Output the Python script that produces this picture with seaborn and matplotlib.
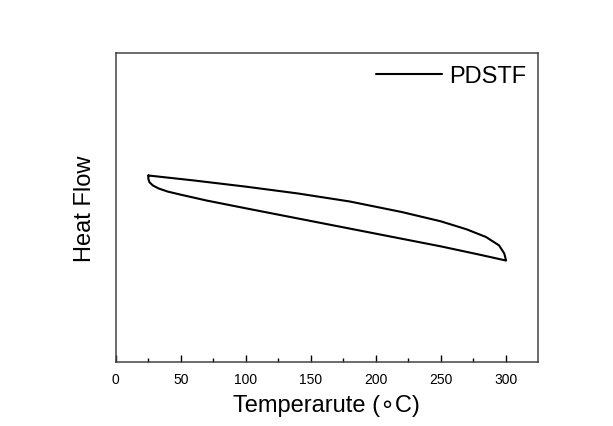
import matplotlib
matplotlib.use("Agg")
import matplotlib.pyplot as plt
import seaborn as sns
import numpy as np
import pandas as pd

# Loop of DSC trace: heating (upper) then cooling (lower) back to start
temperature = [25.1, 60, 100, 140, 180, 220, 250, 270, 285, 295, 299, 300.4,
               280, 250, 200, 150, 100, 70, 50, 40, 33, 28.5, 26, 25.1, 25.1]
heat_flow = [6.04, 5.88, 5.68, 5.46, 5.20, 4.86, 4.56, 4.30, 4.05, 3.78, 3.52, 3.29,
             3.48, 3.75, 4.16, 4.57, 4.98, 5.23, 5.42, 5.52, 5.62, 5.72, 5.82, 5.93, 6.04]
series_name = "PDSTF"
x_ticks = [0, 50, 100, 150, 200, 250, 300]

sns.set_style("white")
plt.rcParams['font.family'] = ['Liberation Sans', 'DejaVu Sans']
plt.rcParams['text.color'] = 'black'
plt.rcParams['axes.labelcolor'] = 'black'
plt.rcParams['xtick.color'] = 'black'

fig = plt.figure(figsize=(6.13, 4.27), dpi=100)
ax = fig.add_axes([0.1888, 0.1492, 0.8777 - 0.1888, 0.8735 - 0.1492])

df = pd.DataFrame({"T": temperature, "HF": heat_flow})
sns.lineplot(data=df, x="T", y="HF", sort=False, estimator=None, color="black",
             linewidth=1.5, ax=ax, label=series_name)

ax.set_xlim(0, 325)
ax.set_ylim(0, 10)
ax.set_xticks(x_ticks)
ax.set_xticks(np.arange(25, 325, 50), minor=True)
ax.set_yticks([])
ax.tick_params(axis='x', which='major', direction='in', length=5, width=1,
               labelsize=10, pad=7, bottom=True, top=False, colors='black')
ax.tick_params(axis='x', which='minor', direction='in', length=3, width=1,
               bottom=True, top=False, color='black')
for s in ax.spines.values():
    s.set_visible(True)
    s.set_color('#444444')
    s.set_linewidth(1.1)

ax.set_xlabel("Temperarute (\u2218C)", fontsize=17, labelpad=6, color='black')
ax.set_ylabel("Heat Flow", fontsize=17, labelpad=14, color='black')

leg = ax.legend(loc='upper right', frameon=False, fontsize=17, handlelength=2.8,
                handletextpad=0.3, borderaxespad=0.1)
for t in leg.get_texts():
    t.set_color('black')

fig.savefig("out.png", dpi=100, facecolor="white")
